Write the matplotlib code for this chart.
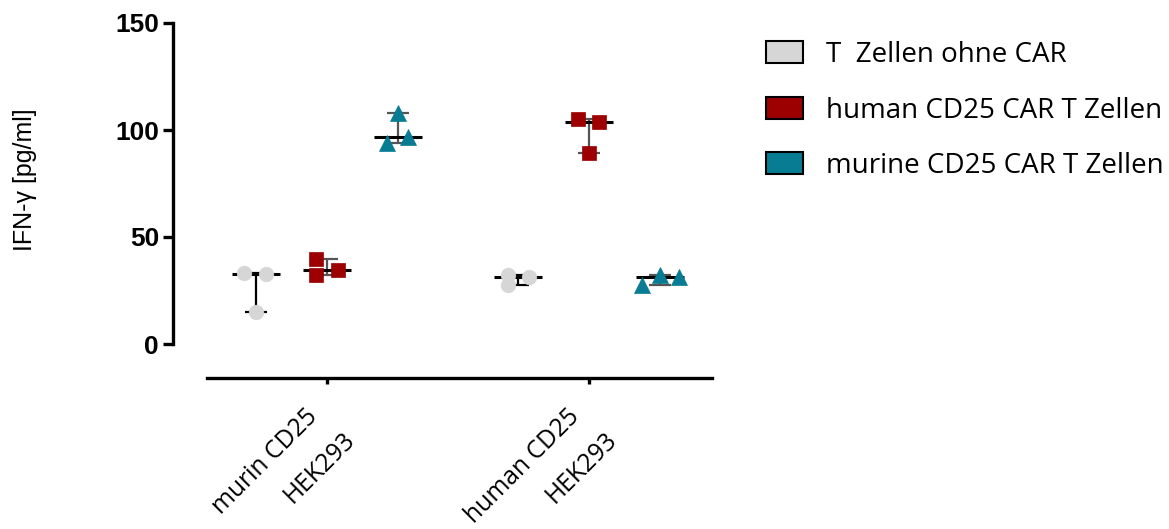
import numpy as np
import matplotlib
matplotlib.use("Agg")
import matplotlib.pyplot as plt
from matplotlib.patches import Patch
from matplotlib.transforms import ScaledTranslation, blended_transform_factory

# IFN-gamma release (pg/ml), three replicates per condition
targets = [("murin CD25", "HEK293"), ("human CD25", "HEK293")]
series = ["T  Zellen ohne CAR", "human CD25 CAR T Zellen", "murine CD25 CAR T Zellen"]
ctrl_vals = [[33.2, 32.7, 15.0], [32.2, 27.6, 31.3]]
hcar_vals = [[39.7, 32.2, 34.6], [105.1, 103.7, 89.3]]
mcar_vals = [[107.9, 93.9, 96.7], [27.6, 32.2, 31.3]]

colors = ["#d6d6d6", "#9c0000", "#077c93"]
markers = ["o", "s", "^"]
msizes = [10.5, 10, 11]
bar_colors = ["black", "#555555", "#555555"]
# horizontal spread of the replicate points inside each column
spread = [
    [[-0.046, 0.038, 0.0], [-0.040, -0.040, 0.042]],
    [[-0.042, -0.042, 0.040], [-0.042, 0.038, 0.0]],
    [[0.0, -0.042, 0.038], [-0.069, 0.0, 0.073]],
]
group_offset = [-0.271, 0.0, 0.271]

fig = plt.figure(figsize=(11.69, 5.29), dpi=100)
ax = fig.add_axes([207 / 1169, 185 / 529, 505 / 1169, 321 / 529])

all_vals = [ctrl_vals, hcar_vals, mcar_vals]
for s, vals in enumerate(all_vals):
    for g, reps in enumerate(vals):
        x0 = g + 1 + group_offset[s]
        reps = np.array(reps)
        med = np.median(reps)
        lo, hi = reps.min(), reps.max()
        # range bar with caps
        ax.errorbar([x0], [med], yerr=[[med - lo], [hi - med]], fmt="none",
                    ecolor=bar_colors[s], elinewidth=1.6, capsize=8, capthick=1.6,
                    clip_on=False, zorder=2)
        # median line
        ax.hlines(med, x0 - 0.092, x0 + 0.092, color="black", lw=2.2,
                  clip_on=False, zorder=3)
        xs = x0 + np.array(spread[s][g])
        ax.plot(xs, reps, linestyle="none", marker=markers[s], ms=msizes[s],
                mfc=colors[s], mec=colors[s], mew=0.5, clip_on=False, zorder=4)

ax.set_xlim(0.542, 2.469)
ax.set_ylim(0, 150)

for side in ["top", "right"]:
    ax.spines[side].set_visible(False)
ax.spines["left"].set_position(("outward", 24.5))
ax.spines["bottom"].set_position(("outward", 24.5))
ax.spines["left"].set_bounds(0, 150)
ax.spines["left"].set_linewidth(2.4)
ax.spines["bottom"].set_linewidth(2.4)

ax.set_yticks([0, 50, 100, 150])
ax.set_yticklabels(["0", "50", "100", "150"], fontfamily="Liberation Sans",
                   fontweight="bold", fontsize=19)
ax.tick_params(axis="y", length=7, width=2.4, pad=3)

# x tick labels: two rotated lines per category, second line set down-right
ax.set_xticks([1, 2])
ax.set_xticklabels([])
ax.tick_params(axis="x", length=4, width=2.4)
base = blended_transform_factory(ax.transData, ax.transAxes)
line_offsets = [(-15.9, -43.2), (11.3, -59.8)]  # points
for g, lines in enumerate(targets):
    for text, (dx, dy) in zip(lines, line_offsets):
        tr = base + ScaledTranslation(dx / 72, dy / 72, fig.dpi_scale_trans)
        ax.text(g + 1, 0, text, transform=tr, rotation=45, rotation_mode="anchor",
                ha="right", va="top", fontfamily="Open Sans", fontsize=17.8,
                clip_on=False)

fig.text(25 / 1169, 1 - 180 / 529, "IFN-\u03b3 [pg/ml]", rotation=90,
         ha="center", va="center", fontfamily="Liberation Sans", fontsize=18)

handles = [Patch(facecolor=c, edgecolor="black", linewidth=1.5) for c in colors]
fig.legend(handles, series, loc="upper left",
           bbox_to_anchor=(766 / 1169, 1 - 41 / 529),
           frameon=False, prop={"family": "Open Sans", "size": 20},
           handlelength=1.33, handleheight=0.83, handletextpad=0.83,
           labelspacing=0.99, borderaxespad=0, borderpad=0)

fig.savefig("out.png", dpi=100)
